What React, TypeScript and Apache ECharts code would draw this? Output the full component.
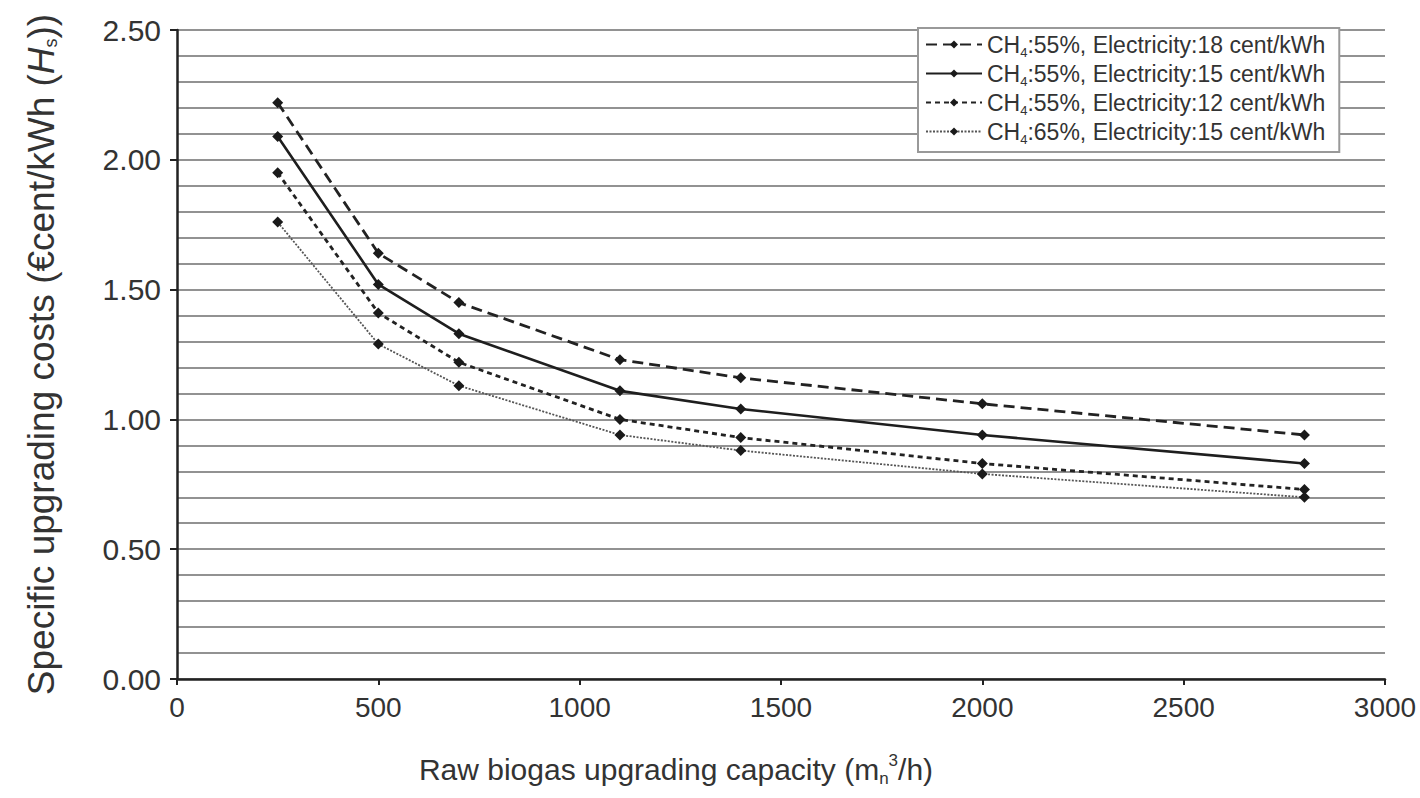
import React, { useEffect, useRef } from "react";
import * as echarts from "echarts";

const capacities = [250, 500, 700, 1100, 1400, 2000, 2800];
const costs55e18 = [2.22, 1.64, 1.45, 1.23, 1.16, 1.06, 0.94];
const costs55e15 = [2.09, 1.52, 1.33, 1.11, 1.04, 0.94, 0.83];
const costs55e12 = [1.95, 1.41, 1.22, 1.0, 0.93, 0.83, 0.73];
const costs65e15 = [1.76, 1.29, 1.13, 0.94, 0.88, 0.79, 0.7];
const seriesNames = [
  "CH4:55%, Electricity:18 cent/kWh",
  "CH4:55%, Electricity:15 cent/kWh",
  "CH4:55%, Electricity:12 cent/kWh",
  "CH4:65%, Electricity:15 cent/kWh",
];

const FONT = '"Liberation Sans", Arial, Helvetica, sans-serif';

export default function App() {
  const ref = useRef<HTMLDivElement>(null);
  useEffect(() => {
    if (!ref.current) return;
    const chart = echarts.init(ref.current, undefined, { renderer: "svg" });
    const pts = (ys: number[]) => capacities.map((x, i) => [x, ys[i]]);
    const styles = [
      { type: [11, 6], width: 2.8, color: "#222" },
      { type: "solid", width: 2.6, color: "#1e1e1e" },
      { type: [5, 4], width: 2.8, color: "#222" },
      { type: [2, 1.5], width: 1.8, color: "#555" },
    ];
    const datas = [costs55e18, costs55e15, costs55e12, costs65e15];
    chart.setOption({
      animation: false,
      backgroundColor: "#fff",
      textStyle: { fontFamily: FONT },
      grid: { left: 177, right: 35, top: 30, bottom: 119, containLabel: false },
      legend: {
        left: 918,
        top: 28,
        orient: "vertical",
        backgroundColor: "#fff",
        borderColor: "#999",
        borderWidth: 2,
        borderRadius: 0,
        padding: [5, 14, 6, 7],
        itemGap: 3,
        itemWidth: 56,
        itemHeight: 10,
        data: seriesNames,
        formatter: (name: string) => {
          const rest = name.slice(3);
          return "{t|CH}{sub|4}{t|" + rest + "}";
        },
        textStyle: {
          color: "#333",
          fontSize: 23,
          fontFamily: FONT,
          rich: {
            t: { fontSize: 23, color: "#333", fontFamily: FONT },
            sub: { fontSize: 13, color: "#333", fontFamily: FONT, verticalAlign: "bottom", padding: [16, 0, 0, 0] },
          },
        },
      },
      xAxis: {
        type: "value",
        min: 0,
        max: 3000,
        interval: 500,
        name: "{t|Raw biogas upgrading capacity (m}{sub|n}{sup|3}{t|/h)}",
        nameLocation: "middle",
        nameGap: 73,
        nameTextStyle: {
          padding: [0, 210, 0, 0],
          rich: {
            t: { fontSize: 30, color: "#333", fontFamily: FONT },
            sub: { fontSize: 17, color: "#333", fontFamily: FONT, verticalAlign: "bottom", padding: [18, 0, 0, 0] },
            sup: { fontSize: 17, color: "#333", fontFamily: FONT, verticalAlign: "top", padding: [0, 0, 12, 0] },
          },
        },
        axisLine: { show: true, onZero: false, lineStyle: { color: "#222", width: 2.5 } },
        axisTick: { show: true, inside: false, length: 6, lineStyle: { color: "#222", width: 2 } },
        axisLabel: {
          fontSize: 28,
          color: "#333",
          margin: 14,
          fontFamily: FONT,
          formatter: (v: number) => String(v),
        },
        splitLine: { show: false },
      },
      yAxis: {
        type: "value",
        min: 0,
        max: 2.5,
        interval: 0.5,
        name: "{t|Specific upgrading costs (€cent/kWh (}{it|H}{sub|s}{t|))}",
        nameLocation: "middle",
        nameRotate: 90,
        nameGap: 117,
        nameTextStyle: {
          rich: {
            t: { fontSize: 37, color: "#333", fontFamily: FONT },
            it: { fontSize: 37, color: "#333", fontFamily: FONT, fontStyle: "italic" },
            sub: { fontSize: 18, color: "#333", fontFamily: FONT, verticalAlign: "bottom", padding: [20, 0, 0, 0] },
          },
        },
        axisLine: { show: true, lineStyle: { color: "#222", width: 2.5 } },
        axisTick: { show: true, inside: false, length: 7, lineStyle: { color: "#222", width: 2 } },
        minorTick: { show: false, splitNumber: 5 },
        axisLabel: {
          fontSize: 30,
          color: "#333",
          margin: 16,
          fontFamily: FONT,
          formatter: (v: number) => v.toFixed(2),
        },
        splitLine: { show: true, lineStyle: { color: "#929292", width: 2 } },
        minorSplitLine: { show: true, lineStyle: { color: "#929292", width: 2 } },
      },
      series: seriesNames.map((name, i) => ({
        name,
        type: "line",
        data: pts(datas[i]),
        symbol: "diamond",
        symbolSize: 11,
        itemStyle: { color: "#1a1a1a" },
        lineStyle: styles[i],
        z: 3,
      })),
    });
    return () => chart.dispose();
  }, []);
  return (
    <div
      ref={ref}
      style={{ position: "fixed", left: 0, top: 0, width: 1420, height: 798, background: "#fff" }}
    />
  );
}
